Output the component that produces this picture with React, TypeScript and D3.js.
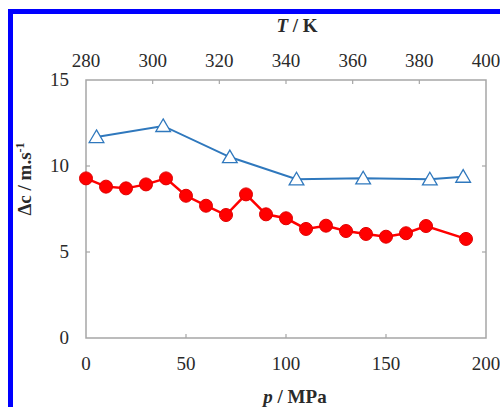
import React from "react";
import * as d3 from "d3";

const pressureP = [0, 10, 20, 30, 40, 50, 60, 70, 80, 90, 100, 110, 120, 130, 140, 150, 160, 170, 190];
const deltaCp = [9.28, 8.8, 8.7, 8.93, 9.28, 8.27, 7.69, 7.15, 8.35, 7.19, 6.96, 6.34, 6.53, 6.22, 6.05, 5.89, 6.09, 6.51, 5.76];

const temperatureT = [283.15, 303.15, 323.15, 343.15, 363.15, 383.15, 393.15];
const deltaCT = [11.69, 12.33, 10.52, 9.23, 9.29, 9.23, 9.38];

const pTicks = [0, 50, 100, 150, 200];
const tTicks = [280, 300, 320, 340, 360, 380, 400];
const yTicks = [0, 5, 10, 15];

const W = 500;
const H = 407;
const L = 86, R = 486, T = 80, B = 338;

export default function App() {
  const xP = d3.scaleLinear().domain([0, 200]).range([L, R]);
  const xT = d3.scaleLinear().domain([280, 400]).range([L, R]);
  const y = d3.scaleLinear().domain([0, 15]).range([B, T]);

  const redLine = d3.line<number>().x((_, i) => xP(pressureP[i])).y((d) => y(d))(deltaCp) || "";
  const blueLine = d3.line<number>().x((_, i) => xT(temperatureT[i])).y((d) => y(d))(deltaCT) || "";

  const tri = (cx: number, cy: number) => {
    const s = 7;
    return `M${cx},${cy - s}L${cx + s * 1.05},${cy + s * 0.8}L${cx - s * 1.05},${cy + s * 0.8}Z`;
  };

  const font = "Liberation Serif, Times New Roman, serif";
  const tc = "#2a2a2a";
  const frame = "#a6a6a6";
  const blue = "#2f78bd";
  const red = "#ff0000";

  return (
    <svg width={W} height={H} style={{ position: "absolute", left: 0, top: 0, display: "block" }}>
      <rect x={0} y={0} width={W} height={H} fill="#fff" />
      <rect x={10.5} y={11.5} width={700} height={700} fill="none" stroke="#0000ff" strokeWidth={5} />

      {/* frame */}
      <rect x={L} y={T} width={R - L} height={B - T} fill="none" stroke={frame} strokeWidth={1.5} />
      {pTicks.slice(1, -1).map((v) => (
        <line key={"pb" + v} x1={xP(v)} x2={xP(v)} y1={B} y2={B - 4} stroke={frame} strokeWidth={1.2} />
      ))}
      {tTicks.slice(1, -1).map((v) => (
        <line key={"tt" + v} x1={xT(v)} x2={xT(v)} y1={T} y2={T + 4} stroke={frame} strokeWidth={1.2} />
      ))}
      {yTicks.slice(1, -1).map((v) => (
        <g key={"yt" + v}>
          <line x1={L} x2={L + 4} y1={y(v)} y2={y(v)} stroke={frame} strokeWidth={1.2} />
          <line x1={R} x2={R - 4} y1={y(v)} y2={y(v)} stroke={frame} strokeWidth={1.2} />
        </g>
      ))}

      {/* tick labels */}
      {pTicks.map((v) => (
        <text key={"pl" + v} x={xP(v)} y={370} textAnchor="middle" fontFamily={font} fontSize={19} fill={tc}>
          {v}
        </text>
      ))}
      {tTicks.map((v) => (
        <text key={"tl" + v} x={xT(v)} y={67} textAnchor="middle" fontFamily={font} fontSize={19} fill={tc}>
          {v}
        </text>
      ))}
      {yTicks.map((v) => (
        <text key={"yl" + v} x={69} y={y(v) + 6} textAnchor="end" fontFamily={font} fontSize={19} fill={tc}>
          {v}
        </text>
      ))}

      {/* titles */}
      <text x={297} y={32} textAnchor="middle" fontFamily={font} fontSize={19} fontWeight="bold" fill={tc}>
        <tspan fontStyle="italic">T</tspan> / K
      </text>
      <text x={295} y={403} textAnchor="middle" fontFamily={font} fontSize={19} fontWeight="bold" fill={tc}>
        <tspan fontStyle="italic">p</tspan> / MPa
      </text>
      <text
        transform={`translate(31,179) rotate(-90)`}
        textAnchor="middle"
        fontFamily={font}
        fontSize={19}
        fontWeight="bold"
        fill={tc}
      >
        Δc / m.s<tspan dy={-7} fontSize={12}>-1</tspan>
      </text>

      {/* blue series */}
      <path d={blueLine} fill="none" stroke={blue} strokeWidth={2} />
      {deltaCT.map((v, i) => (
        <path key={"b" + i} d={tri(xT(temperatureT[i]), y(v))} fill="#fff" stroke={blue} strokeWidth={1.3} />
      ))}

      {/* red series */}
      <path d={redLine} fill="none" stroke={red} strokeWidth={2.5} />
      {deltaCp.map((v, i) => (
        <circle key={"r" + i} cx={xP(pressureP[i])} cy={y(v)} r={6.5} fill={red} stroke="#e00000" strokeWidth={1} />
      ))}
    </svg>
  );
}
